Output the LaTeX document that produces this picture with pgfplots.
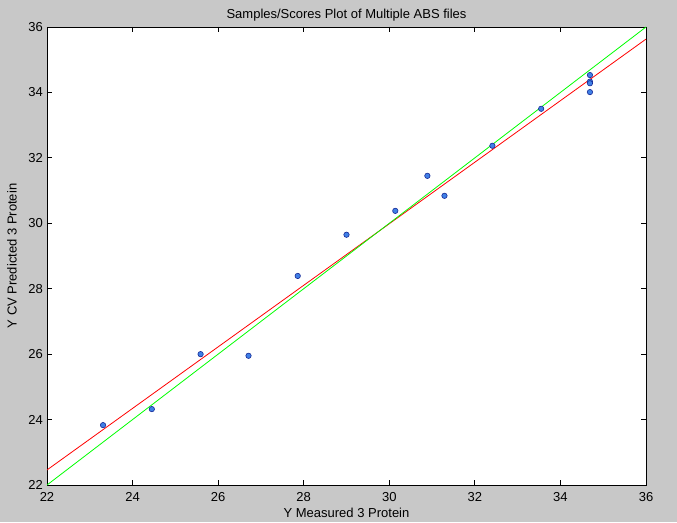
\documentclass[border=0pt]{standalone}
\usepackage{pgfplots}
\pgfplotsset{compat=1.18}
\usepackage{fontspec}
\setmainfont{Liberation Sans}
\definecolor{bggray}{RGB}{200,200,200}
\definecolor{mkfill}{RGB}{64,128,230}
\definecolor{mkedge}{RGB}{20,40,150}
\begin{document}
\begin{tikzpicture}[x=1pt,y=1pt]
\fill[bggray] (0,0) rectangle (677,522);
\useasboundingbox (0,0) rectangle (677,522);
\begin{axis}[
  at={(47pt,37pt)}, anchor=south west,
  scale only axis, width=599pt, height=458pt,
  xmin=22, xmax=36, ymin=22, ymax=36,
  xtick={22,24,...,36}, ytick={22,24,...,36},
  axis background/.style={fill=white},
  axis line style={black, line width=0.8pt},
  tick align=inside, major tick length=5pt,
  tick style={black, line width=0.8pt},
  font=\fontsize{13}{15}\selectfont,
  /pgf/number format/assume math mode=true,
  xticklabel style={anchor=base, inner sep=0pt, yshift=-16pt},
  yticklabel style={inner sep=0pt, xshift=-4pt},
  every axis title shift=0pt,
  title={Samples/Scores Plot of Multiple ABS files},
  title style={at={(axis description cs:0.5,1.0175)}, anchor=base, inner sep=0pt},
  xlabel={Y Measured 3 Protein},
  xlabel style={at={(axis description cs:0.5,-0.072)}, anchor=base, inner sep=0pt},
  ylabel={Y CV Predicted 3 Protein},
  ylabel style={at={(axis description cs:-0.0501,0.5)}, anchor=south, inner sep=0pt},
  clip=true,
]
\addplot[color=red, line width=0.8pt] coordinates {(22,22.46) (36,35.63)};
\addplot[color=green, line width=0.8pt] coordinates {(22,22) (36,36)};
\addplot[only marks, mark=*, mark size=2.7pt, mark options={fill=mkfill, draw=mkedge, line width=0.6pt}] coordinates {
(23.31,23.83)
(24.45,24.32)
(25.59,26.00)
(26.71,25.95)
(27.86,28.39)
(29.00,29.65)
(30.14,30.38)
(30.89,31.45)
(31.29,30.84)
(32.41,32.37)
(33.55,33.50)
(34.69,34.53)
(34.69,34.33)
(34.69,34.28)
(34.69,34.01)
};
\end{axis}
\end{tikzpicture}
\end{document}
